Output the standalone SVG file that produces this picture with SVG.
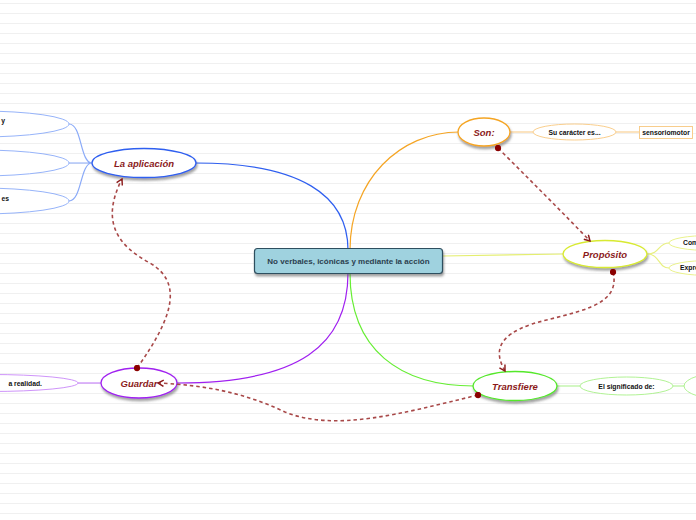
<svg xmlns="http://www.w3.org/2000/svg" width="696" height="520" viewBox="0 0 696 520">
<defs>
<pattern id="ruled" width="696" height="10" patternUnits="userSpaceOnUse" y="0">
<rect x="0" y="3" width="696" height="1" fill="#f0f0f0"/>
</pattern>
<filter id="sh" x="-20%" y="-30%" width="140%" height="180%">
<feDropShadow dx="1" dy="2.5" stdDeviation="1.2" flood-color="#555" flood-opacity="0.55"/>
</filter>
<marker id="arr" viewBox="0 0 10 10" refX="8" refY="5" markerWidth="8" markerHeight="8" orient="auto" markerUnits="userSpaceOnUse">
<path d="M1,1 L8,5 L1,9" fill="none" stroke="#8b1a1a" stroke-width="1.8"/>
</marker>
<marker id="dot" viewBox="0 0 10 10" refX="5" refY="5" markerWidth="7" markerHeight="7" markerUnits="userSpaceOnUse">
<circle cx="5" cy="5" r="4.5" fill="#8b0000"/>
</marker>
</defs>
<style>
.main{font-family:"Liberation Sans",Arial,sans-serif;font-weight:bold;font-size:8px;fill:#2b3f4f;text-anchor:middle}
.lbl{font-family:"Liberation Sans",Arial,sans-serif;font-weight:bold;font-style:italic;font-size:9.5px;fill:#8b1a1a;text-anchor:middle}
.sub{font-family:"Liberation Sans",Arial,sans-serif;font-weight:bold;font-size:6.8px;fill:#111;text-anchor:middle}
.rel{fill:none;stroke:#a84848;stroke-width:1.6;stroke-dasharray:3.5,3;marker-start:url(#dot);marker-end:url(#arr)}
.br{fill:none;stroke-width:1.2}
</style>
<rect width="696" height="520" fill="#ffffff"/>
<rect width="696" height="520" fill="url(#ruled)"/>

<g id="connectors">
<path class="br" d="M348,250 C348,195 300,163 196,163" stroke="#2f5ff0"/>
<path class="br" d="M350,250 C350,180 400,132 459,132" stroke="#f5a524"/>
<path class="br" d="M443,256 L564,254" stroke="#e4ee70"/>
<path class="br" d="M350,273 C350,350 400,386 474,386" stroke="#66ee33"/>
<path class="br" d="M348,273 C348,345 300,383 177,383" stroke="#a020f0"/>
<path class="br" d="M92,163 C80,163 82,124 69,124 M92,163 L69,163 M92,163 C80,163 82,201 69,201" stroke="#8aaaf8" stroke-width="0.9"/>
<path class="br" d="M510,132 L533,132 M616,132 L639,132" stroke="#f8c880"/>
<path class="br" d="M647,254 C660,254 658,243 669,243 M647,254 C660,254 658,268 669,268" stroke="#e8f080" stroke-width="0.9"/>
<path class="br" d="M557,386 L580,386 M673,386 L685,386" stroke="#a8f088"/>
<path class="br" d="M101,383 L78,383" stroke="#c888f8" stroke-width="0.9"/>
</g>

<g id="n-center">
<rect x="254.5" y="248.5" width="188" height="25" rx="3" fill="#9fd2df" stroke="#2f4f5f" stroke-width="1.2" filter="url(#sh)"/>
<text class="main" x="348.5" y="264">No verbales, icónicas y mediante la acción</text>
</g>

<g id="n-aplicacion">
<ellipse cx="144" cy="163" rx="52" ry="14.5" fill="#fff" stroke="#2f5ff0" stroke-width="1.3" filter="url(#sh)"/>
<text class="lbl" x="144" y="166.5">La aplicación</text>
</g>
<g id="n-ap1">
<ellipse cx="-20" cy="124" rx="89" ry="13" fill="#fff" stroke="#8aaaf8" stroke-width="0.9"/>
<text class="sub" x="5" y="123" style="text-anchor:end">y</text>
</g>
<g id="n-ap2">
<ellipse cx="-20" cy="163" rx="89" ry="13" fill="#fff" stroke="#8aaaf8" stroke-width="0.9"/>
</g>
<g id="n-ap3">
<ellipse cx="-20" cy="201" rx="89" ry="13" fill="#fff" stroke="#8aaaf8" stroke-width="0.9"/>
<text class="sub" x="9" y="201" style="text-anchor:end">es</text>
</g>

<g id="n-son">
<ellipse cx="484" cy="132" rx="26" ry="14" fill="#fff" stroke="#f5a524" stroke-width="1.3" filter="url(#sh)"/>
<text class="lbl" x="484" y="135.5">Son:</text>
</g>
<g id="n-caracter">
<ellipse cx="574.5" cy="132" rx="41.5" ry="8" fill="#fff" stroke="#f8c880" stroke-width="0.9"/>
<text class="sub" x="574.5" y="134.5">Su carácter es...</text>
</g>
<g id="n-sensorio">
<rect x="639.5" y="126.5" width="53" height="12" fill="#fff" stroke="#f8c880" stroke-width="0.9"/>
<text class="sub" x="666" y="134.5">sensoriomotor</text>
</g>

<g id="n-proposito">
<ellipse cx="605" cy="254" rx="42" ry="13.5" fill="#fff" stroke="#d8ea30" stroke-width="1.3" filter="url(#sh)"/>
<text class="lbl" x="605" y="257.5">Propósito</text>
</g>
<g id="n-com">
<ellipse cx="710" cy="243" rx="41" ry="7.5" fill="#fff" stroke="#e8f080" stroke-width="0.9"/>
<text class="sub" x="683" y="245" style="text-anchor:start">Com</text>
</g>
<g id="n-expre">
<ellipse cx="710" cy="268" rx="41" ry="7.5" fill="#fff" stroke="#e8f080" stroke-width="0.9"/>
<text class="sub" x="680" y="270" style="text-anchor:start">Expre</text>
</g>

<g id="n-transfiere">
<ellipse cx="515" cy="386" rx="42" ry="14.5" fill="#fff" stroke="#55e82a" stroke-width="1.3" filter="url(#sh)"/>
<text class="lbl" x="515" y="389.5">Transfiere</text>
</g>
<g id="n-significado">
<ellipse cx="626.5" cy="386" rx="46.5" ry="9" fill="#fff" stroke="#a8f088" stroke-width="0.9"/>
<text class="sub" x="626.5" y="388.5">El significado de:</text>
</g>
<g id="n-sig2">
<ellipse cx="730" cy="386" rx="46" ry="14" fill="#fff" stroke="#a8f088" stroke-width="0.9"/>
</g>

<g id="n-guardar">
<ellipse cx="139" cy="383" rx="38" ry="15" fill="#fff" stroke="#a020f0" stroke-width="1.3" filter="url(#sh)"/>
<text class="lbl" x="139" y="386.5">Guardar</text>
</g>
<g id="n-realidad">
<ellipse cx="-10" cy="383" rx="88" ry="8.5" fill="#fff" stroke="#c888f8" stroke-width="0.9"/>
<text class="sub" x="42" y="385.5" style="text-anchor:end">a realidad.</text>
</g>

<g id="relations">
<path class="rel" d="M137,368 C175,315 182,282 150,263 C118,246 100,222 122,179"/>
<path class="rel" d="M498,148 C530,180 560,210 590,241"/>
<path class="rel" d="M613,272 C622,308 572,312 532,324 C497,336 494,352 505,371"/>
<path class="rel" d="M478,395 C400,414 335,432 285,412 C245,393 205,385 158,383"/>
</g>
</svg>
